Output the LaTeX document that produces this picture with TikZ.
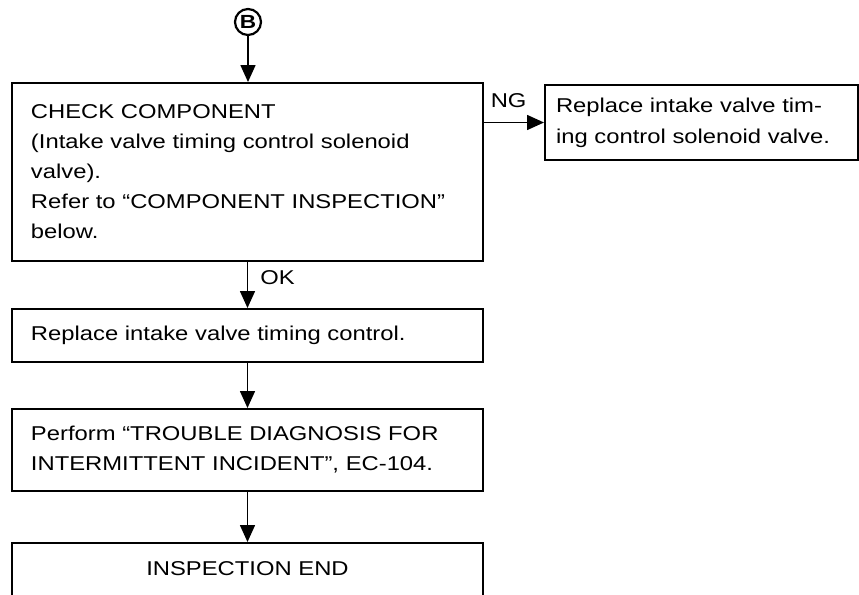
\documentclass[tikz,border=0pt]{standalone}
\usepackage{fontspec}
\setmainfont{Liberation Sans}[FakeStretch=1.19]
\usetikzlibrary{arrows.meta,positioning}
\tikzset{
  box-t/.style={draw,line width=1pt,anchor=north west,inner xsep=9.5pt,text width=216.5pt,align=left,font=\fontsize{10}{15}\selectfont},
  box-ng/.style={draw,line width=1pt,anchor=north west,inner xsep=5.5pt,text width=145.5pt,minimum height=37.5pt,align=left,font=\fontsize{10}{15.5}\selectfont},
  flow/.style={line width=0.8pt,arrows={-Triangle[length=8.5pt,width=7.5pt]}},
  tag/.style={font=\fontsize{10}{12}\selectfont,inner sep=1pt},
  mark-b/.style={draw,circle,line width=1.1pt,minimum size=13pt,inner sep=0pt,font=\bfseries\fontsize{9.5}{9.5}\selectfont},
}

\begin{document}
\begin{tikzpicture}

  \useasboundingbox (0,0) rectangle (429.5pt,-297.5pt);

  % start
  \node[mark-b] (b) at (124pt,-11pt) {B};

  % boxes
  \node[box-t,minimum height=89pt] (chk) at (5.5pt,-41pt)
    {CHECK COMPONENT\\
     (Intake valve timing control solenoid\\
     valve).\\
     Refer to “COMPONENT INSPECTION”\\
     below.};
  \node[box-ng] (ngbox) at (272pt,-42pt)
    {Replace intake valve tim-\\
     ing control solenoid valve.};
  \node[box-t,minimum height=26.5pt] (rep) at (5.5pt,-154pt)
    {Replace intake valve timing control.};
  \node[box-t,minimum height=41pt] (perf) at (5.5pt,-204pt)
    {Perform “TROUBLE DIAGNOSIS FOR\\
     INTERMITTENT INCIDENT”, EC-104.};
  \node[box-t,align=center,inner ysep=0pt,text height=16pt,text depth=22pt] (end) at (5.5pt,-271pt)
    {INSPECTION END};

  % connectors
  \draw[flow] (b) -- (b |- chk.north);
  \draw[flow] (chk.east |- ngbox.west) -- node[tag,above=6pt,pos=0.41] (ng) {NG} (ngbox.west);
  \draw[flow] (chk) -- node[tag,right=5pt,pos=0.35] (ok) {OK} (rep);
  \draw[flow] (rep) -- (perf);
  \draw[flow] (perf) -- (end);

\end{tikzpicture}
\end{document}
